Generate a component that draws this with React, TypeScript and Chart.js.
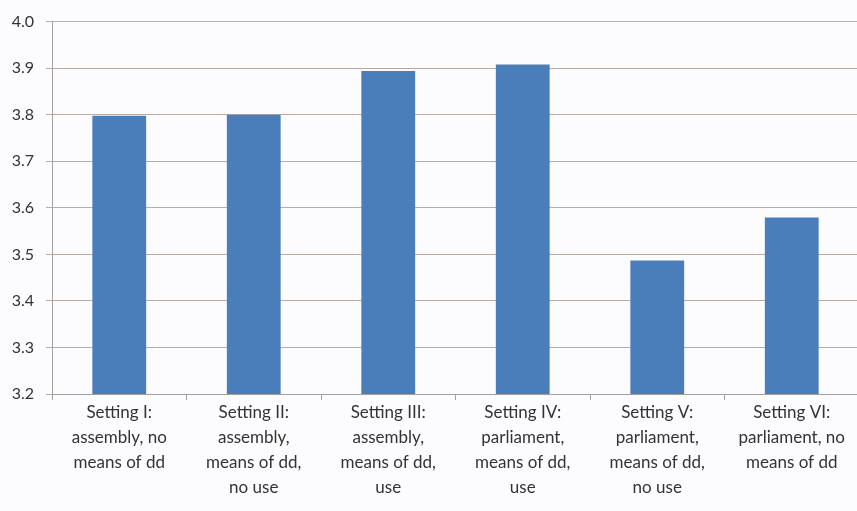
import React, { useEffect, useRef } from "react";
import { Chart, registerables } from "chart.js";

Chart.register(...registerables);

const categories: string[][] = [
  ["Setting I:", "assembly, no", "means of dd"],
  ["Setting II:", "assembly,", "means of dd,", "no use"],
  ["Setting III:", "assembly,", "means of dd,", "use"],
  ["Setting IV:", "parliament,", "means of dd,", "use"],
  ["Setting V:", "parliament,", "means of dd,", "no use"],
  ["Setting VI:", "parliament, no", "means of dd"],
];
const values: number[] = [3.798, 3.8, 3.894, 3.908, 3.487, 3.579];
const yMin = 3.2;
const yMax = 4.0;
const yStep = 0.1;

export default function App() {
  const ref = useRef<HTMLCanvasElement | null>(null);
  useEffect(() => {
    document.body.style.margin = "0";
    document.body.style.overflow = "hidden";
    document.body.style.background = "#fcfcfe";
    const chart = new Chart(ref.current!, {
      type: "bar",
      data: {
        labels: categories,
        datasets: [
          {
            data: values,
            backgroundColor: "#4a7ebb",
            borderWidth: 0,
            categoryPercentage: 1,
            barPercentage: 0.4,
          },
        ],
      },
      options: {
        responsive: false,
        animation: false,
        layout: { padding: { top: 18, right: 0, left: 0, bottom: 0 } },
        plugins: { legend: { display: false }, tooltip: { enabled: false } },
        scales: {
          x: {
            grid: {
              offset: true,
              drawOnChartArea: false,
              drawTicks: true,
              tickLength: 6,
              color: "#a0a0a0",
            },
            border: { color: "#a0a0a0", width: 1 },
            ticks: {
              color: "#333333",
              font: { family: "Lato", size: 17, lineHeight: 1.47 },
              padding: 0,
              maxRotation: 0,
              autoSkip: false,
            },
            afterFit: (s: any) => {
              s.height = 117;
            },
          },
          y: {
            min: yMin,
            max: yMax,
            grid: {
              color: "#b8aca4",
              lineWidth: 1,
              tickLength: 6,
            },
            border: { color: "#a0a0a0", width: 1 },
            ticks: {
              stepSize: yStep,
              color: "#333333",
              font: { family: "Lato", size: 16 },
              padding: 12,
              callback: (v: any) => Number(v).toFixed(1),
            },
            afterFit: (s: any) => {
              s.width = 52;
            },
          },
        },
      },
    });
    return () => chart.destroy();
  }, []);
  return (
    <div style={{ width: 859, height: 511 }}>
      <canvas ref={ref} width={859} height={511} style={{ display: "block" }} />
    </div>
  );
}
